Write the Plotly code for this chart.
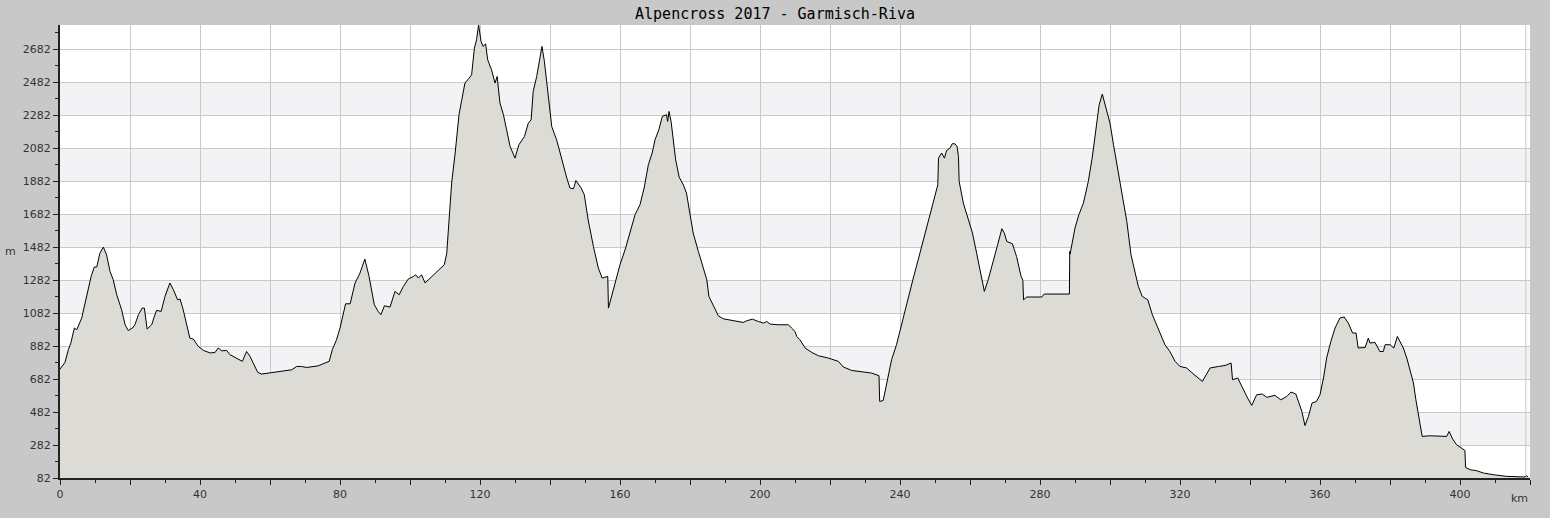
# elevation profile Alpencross 2017
import plotly.graph_objects as go

# distance (km) and elevation (m)
km = [0, 1.4, 2.4, 3.1, 4.1, 4.8, 6.2, 7.6, 8.9, 9.8, 10.5, 11.4, 12.4, 13.3, 14.3, 15.2,
      16.2, 17.6, 18.6, 19.5, 20.7, 21.4, 22.4, 23.5, 24.1, 24.9, 26.2, 26.9, 27.6, 28.9,
      30.0, 31.4, 32.4, 33.6, 34.3, 35.2, 36.2, 37.1, 38.1, 39.5, 41.0, 42.9, 44.3, 45.2,
      46.2, 47.6, 48.6, 50.5, 52.1, 53.3, 54.3, 55.2, 56.5, 57.6, 59.5, 63.3, 66.2, 67.6,
      69.0, 70.5, 73.8, 75.7, 76.9, 77.8, 79.0, 80.0, 81.0, 81.6, 82.9, 84.3, 85.7, 87.1,
      88.3, 89.8, 90.9, 91.7, 92.7, 94.3, 95.7, 96.9, 98.1, 99.5, 101.0, 101.6, 102.4,
      103.3, 104.3, 106.2, 108.1, 109.8, 110.5, 111.1, 111.9, 112.9, 114.0, 114.8, 115.7,
      116.9, 117.6, 118.4, 119.0, 119.6, 120.3, 120.9, 121.6, 122.2, 123.3, 124.3, 124.9,
      125.7, 126.7, 127.6, 128.6, 130.0, 131.1, 132.7, 133.8, 134.6, 135.2, 136.2, 137.1,
      137.7, 138.4, 139.1, 139.5, 140.5, 141.9, 142.9, 143.8, 144.8, 145.7, 146.7, 147.4,
      148.9, 149.8, 150.9, 152.4, 153.8, 154.9, 156.5, 156.7, 157.6, 158.8, 160.0, 161.6,
      163.1, 164.3, 165.7, 166.9, 168.1, 169.2, 170.0, 171.1, 172.1, 173.3, 173.6, 174.0,
      174.6, 175.2, 175.9, 176.9, 178.1, 179.0, 180.0, 180.9, 182.4, 183.8, 184.8, 185.4,
      186.7, 188.1, 189.5, 191.4, 193.3, 195.2, 196.2, 197.8, 199.5, 201.0, 201.9, 202.9,
      205.2, 208.1, 209.0, 210.0, 210.5, 211.4, 212.9, 214.8, 216.7, 219.5, 222.4, 223.8,
      226.2, 229.1, 231.9, 234.0, 234.2, 235.2, 236.5, 237.6, 239.0, 240.3, 241.4, 242.9,
      243.8, 245.2, 246.7, 247.9, 249.1, 250.2, 250.8, 251.0, 251.9, 252.7, 253.3, 254.3,
      254.9, 255.7, 256.3, 256.7, 256.9, 258.1, 259.5, 260.7, 261.9, 262.9, 264.1, 265.2,
      266.7, 267.9, 269.1, 269.8, 270.5, 272.1, 273.3, 274.6, 275.1, 275.3, 276.2, 280.5,
      281.2, 288.4, 288.5, 288.6, 290.0, 291.1, 292.4, 293.8, 294.9, 295.9, 296.9, 297.8,
      298.8, 300.0, 301.0, 301.9, 302.9, 303.8, 304.8, 306.0, 307.1, 308.1, 309.2, 310.8,
      312.1, 313.3, 314.6, 315.7, 317.1, 318.6, 320.0, 321.9, 323.3, 325.2, 326.4, 327.6,
      328.6, 331.0, 332.9, 334.6, 335.0, 336.5, 337.8, 339.3, 340.5, 341.9, 343.5, 344.8,
      347.1, 348.8, 350.5, 351.7, 353.1, 354.8, 355.7, 356.7, 357.7, 359.0, 360.0, 361.0,
      361.9, 363.1, 364.3, 365.7, 366.9, 368.1, 369.3, 370.3, 370.9, 372.9, 373.8, 374.3,
      375.7, 377.1, 378.1, 378.6, 380.0, 381.1, 382.1, 382.9, 383.8, 384.8, 385.7, 386.7,
      387.4, 388.1, 388.8, 389.2, 391.4, 394.3, 396.2, 396.9, 397.9, 399.0, 400.5, 401.4,
      401.6, 402.9, 404.8, 406.7, 409.5, 413.3, 418.6, 419.0, 419.5]
elev = [742, 782, 860, 900, 991, 981, 1052, 1183, 1304, 1361, 1361, 1445, 1482, 1435, 1334, 1284,
        1193, 1102, 1011, 976, 991, 1011, 1072, 1112, 1112, 985, 1011, 1058, 1098, 1092,
        1183, 1264, 1223, 1162, 1167, 1102, 1001, 930, 924, 880, 855, 840, 843, 870,
        853, 855, 829, 809, 789, 849, 819, 779, 722, 712, 718, 726, 738, 758,
        758, 752, 762, 779, 789, 859, 920, 991, 1082, 1138, 1138, 1264, 1324, 1409,
        1304, 1132, 1092, 1072, 1126, 1118, 1213, 1193, 1243, 1288, 1304, 1314, 1294,
        1314, 1264, 1304, 1344, 1375, 1445, 1647, 1870, 2052, 2284, 2375, 2476,
        2506, 2526, 2688, 2738, 2828, 2728, 2698, 2714, 2617, 2556, 2476, 2516,
        2355, 2284, 2193, 2092, 2021, 2102, 2152, 2233, 2253, 2425, 2516, 2617,
        2698, 2607, 2476, 2394, 2212, 2132, 2052, 1970, 1900, 1840, 1835, 1885,
        1840, 1799, 1647, 1486, 1355, 1294, 1304, 1112, 1183, 1294, 1375, 1476,
        1587, 1678, 1738, 1840, 1981, 2052, 2132, 2193, 2274, 2284, 2243, 2304,
        2243, 2132, 2011, 1906, 1859, 1809, 1688, 1567, 1455, 1355, 1284, 1183,
        1122, 1065, 1047, 1041, 1031, 1025, 1035, 1045, 1031, 1021, 1031, 1015,
        1011, 1011, 991, 970, 940, 920, 870, 843, 823, 809, 789, 755,
        734, 724, 718, 702, 546, 552, 678, 799, 890, 1001, 1102, 1233,
        1294, 1405, 1526, 1617, 1718, 1809, 1859, 2021, 2052, 2021, 2067, 2082,
        2108, 2108, 2092, 2031, 1880, 1748, 1647, 1567, 1445, 1344, 1213, 1284,
        1395, 1496, 1593, 1567, 1516, 1502, 1425, 1304, 1280, 1162, 1179, 1179,
        1197, 1197, 1455, 1440, 1597, 1678, 1748, 1880, 2021, 2183, 2344, 2409,
        2334, 2233, 2102, 1991, 1859, 1758, 1637, 1435, 1344, 1243, 1183, 1162,
        1072, 1011, 950, 890, 849, 789, 758, 749, 722, 688, 667, 712,
        749, 758, 764, 779, 678, 688, 627, 567, 522, 587, 591, 571,
        583, 556, 576, 603, 591, 486, 400, 455, 536, 546, 587, 688,
        809, 910, 991, 1052, 1058, 1021, 961, 961, 870, 873, 930, 900,
        904, 849, 849, 890, 890, 870, 940, 910, 870, 809, 738, 658,
        556, 465, 364, 334, 338, 338, 334, 364, 318, 284, 264, 249,
        146, 132, 126, 112, 102, 92, 88, 95, 88]

y_ticks = [82 + 200 * i for i in range(14)]
x_ticks = list(range(0, 421, 20))
x_labels = [str(v) if v % 40 == 0 else "" for v in x_ticks]

fig = go.Figure()
fig.add_trace(go.Scatter(x=km, y=elev, mode="lines", fill="tozeroy",
                         fillcolor="#dcdbd6", line=dict(color="black", width=1),
                         hoverinfo="x+y", showlegend=False))

# alternating horizontal bands
shapes = []
for lo in y_ticks[1::2]:
    if lo + 200 <= 2828:
        shapes.append(dict(type="rect", xref="paper", yref="y", x0=0, x1=1, y0=lo, y1=lo + 200,
                           fillcolor="#f3f2f4", line=dict(width=0), layer="below"))
# end of track marker
shapes.append(dict(type="line", xref="x", yref="paper", x0=km[-2] - 0.2, x1=km[-2] - 0.2, y0=0, y1=1,
                   line=dict(color="#c8c8c8", width=1), layer="below"))

fig.update_layout(
    width=1550, height=518,
    margin=dict(l=60, r=20, t=25, b=40),
    paper_bgcolor="#c8c8c8", plot_bgcolor="white",
    title=dict(text="Alpencross 2017 - Garmisch-Riva", x=0.5, xanchor="center", y=0.973, yanchor="middle",
               font=dict(family="DejaVu Sans Mono", size=15, color="black")),
    font=dict(family="DejaVu Sans", size=11, color="#333"),
    shapes=shapes,
    xaxis=dict(range=[0, 420], tickvals=x_ticks, ticktext=x_labels, ticks="outside", ticklen=5,
               tickcolor="#222", showline=True, linecolor="#222", linewidth=2, mirror=False,
               showgrid=True, gridcolor="#c8c8c8", gridwidth=1, zeroline=False,
               minor=dict(dtick=10, tick0=0, ticks="outside", ticklen=3, tickcolor="#222", showgrid=False)),
    yaxis=dict(range=[82, 2828], tickvals=y_ticks, ticks="outside", ticklen=5, tickcolor="#222",
               showline=True, linecolor="#222", linewidth=2, showgrid=True, gridcolor="#c8c8c8",
               gridwidth=1, zeroline=False,
               minor=dict(dtick=100, tick0=82, ticks="outside", ticklen=3, tickcolor="#222", showgrid=False)),
    annotations=[
        dict(text="km", xref="paper", yref="paper", x=1, y=0, xanchor="right", yanchor="top", yshift=-12,
             showarrow=False, font=dict(size=11, color="#333")),
        dict(text="m", xref="paper", yref="paper", x=0, y=0.5, xanchor="right", yanchor="middle", xshift=-42,
             showarrow=False, font=dict(size=11, color="#333")),
    ],
)

fig.write_html("out.html", config={"displayModeBar": False},
               post_script="document.body.style.margin='0';document.body.style.background='#c8c8c8';")
